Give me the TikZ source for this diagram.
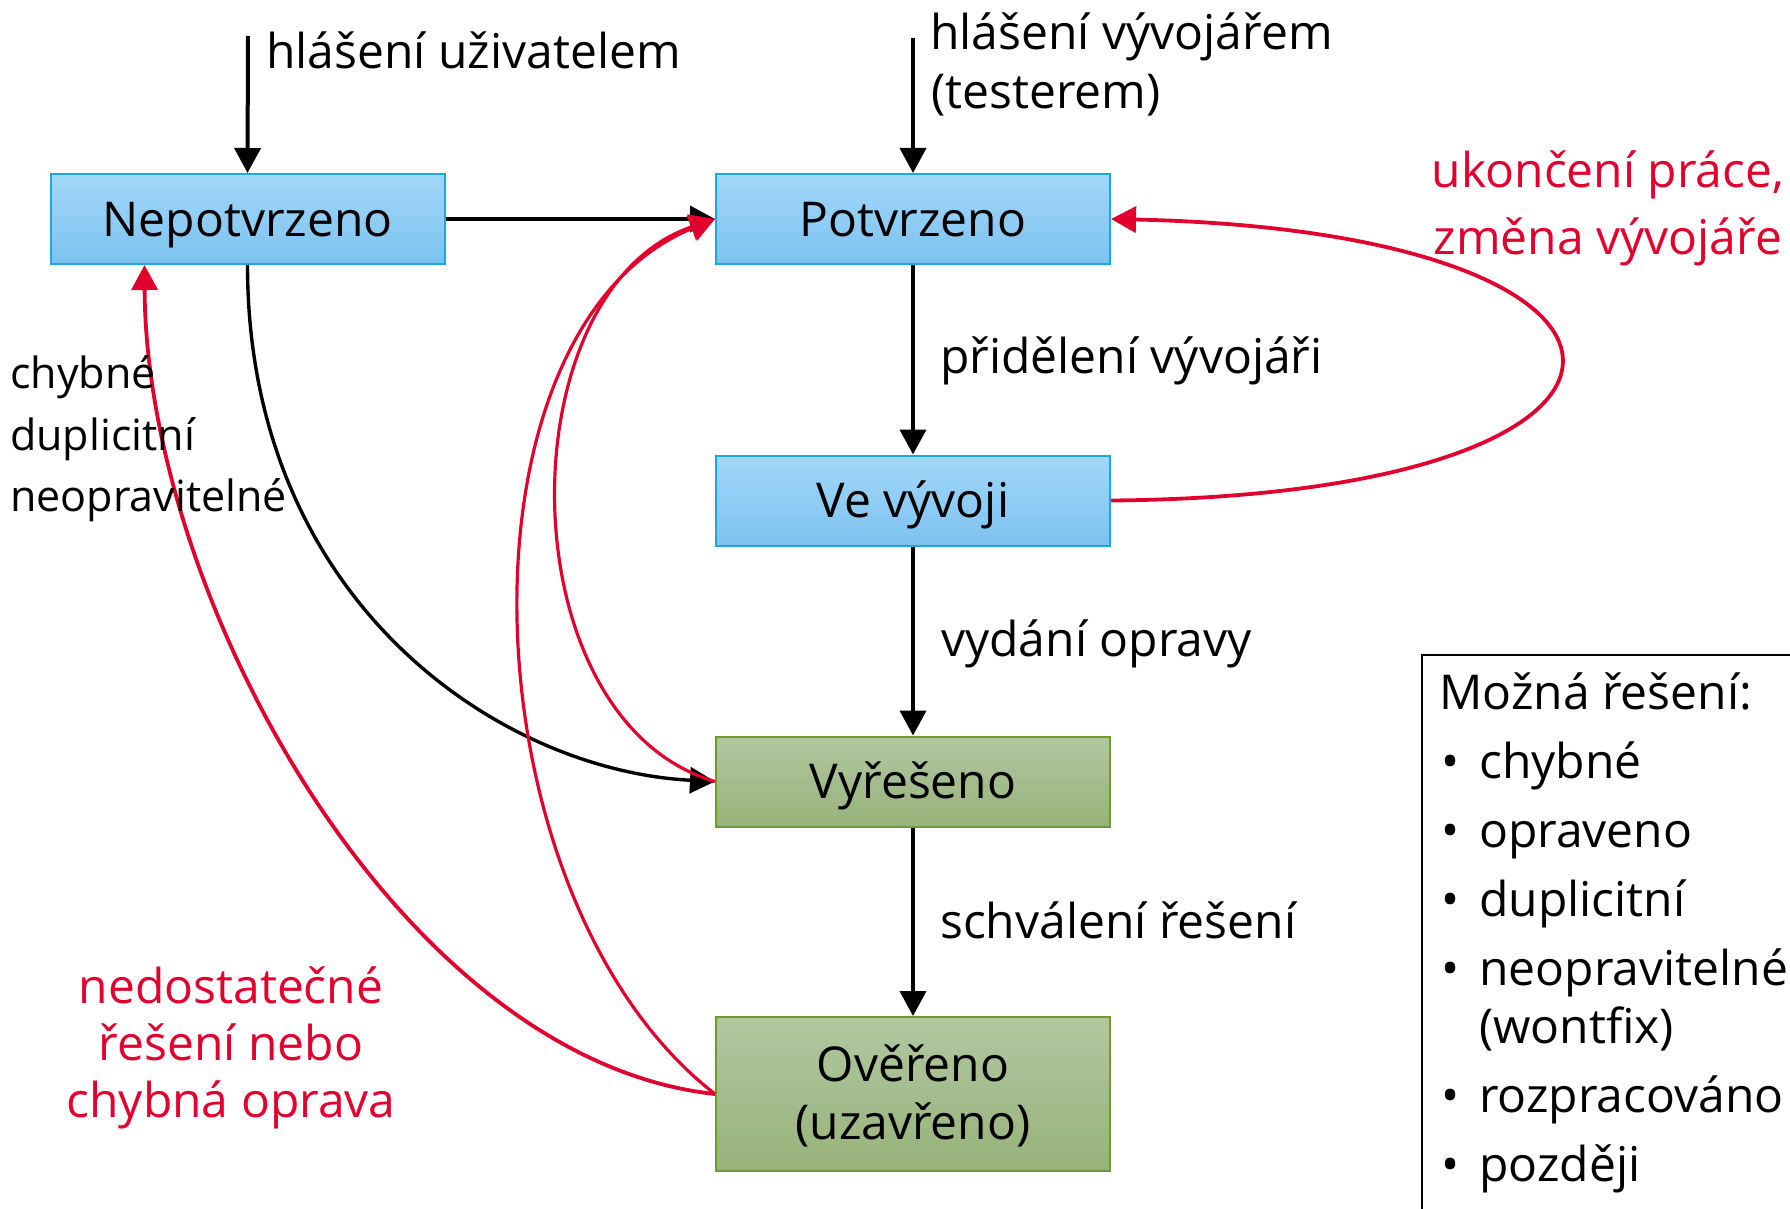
\documentclass[tikz,border=0pt]{standalone}
\usepackage{fontspec}
\setmainfont{Open Sans}
\usetikzlibrary{arrows.meta,shadings}
\definecolor{bdblue}{HTML}{1AA8E0}
\definecolor{topblue}{HTML}{A2D7F9}
\definecolor{botblue}{HTML}{7CC2EF}
\definecolor{bdgreen}{HTML}{6F9B2E}
\definecolor{topgreen}{HTML}{B2C7A0}
\definecolor{botgreen}{HTML}{97B27B}
\definecolor{myred}{HTML}{E2002E}
\newcommand\dgfont{\fontsize{48}{58}\selectfont}
\newcommand\smfont{\fontsize{43}{62}\selectfont}
\tikzset{
  state/.style={draw, line width=2pt, minimum width=394pt, minimum height=90pt,
    inner sep=0pt, align=center, font=\dgfont},
  onel/.style={text height=34pt, text depth=0pt},
  bluestate/.style={state, onel, draw=bdblue, top color=topblue, bottom color=botblue},
  greenstate/.style={state, draw=bdgreen, top color=topgreen, bottom color=botgreen},
  lbl/.style={inner sep=0pt, font=\dgfont, anchor=base west},
  smlbl/.style={inner sep=0pt, font=\smfont, anchor=base west},
  redlbl/.style={inner sep=0pt, font=\dgfont, anchor=base, text=myred},
  tip/.style={-{Triangle[length=25pt,width=26pt]}},
  blk/.style={line width=4pt, tip},
  blkcurve/.style={line width=3.4pt, tip},
  redarr/.style={myred, line width=3.2pt, tip},
}
\begin{document}
\begin{tikzpicture}[x=1pt,y=-1pt]
\useasboundingbox (0,0) rectangle (1790,1209);
\clip (0,0) rectangle (1790,1209);

% states
\node[bluestate] (N1) at (247.5,219) {Nepotvrzeno};
\node[bluestate] (P) at (913,219) {Potvrzeno};
\node[bluestate] (V) at (913,500.5) {Ve vývoji};
\node[greenstate, onel] (R) at (913,781.5) {Vyřešeno};
\node[greenstate, minimum height=154pt] (O) at (913,1094) {\rule{0pt}{40pt}Ověřeno\\(uzavřeno)};

% entry points
\coordinate (in1) at (248,36);
\coordinate (in2) at (913,38);
\draw[blk] (in1) -- (N1.north);
\draw[blk] (in2) -- (P.north);

% black connectors
\draw[blk] (N1.east) -- (P.west);
\draw[blk] (P.south) -- (V.north);
\draw[blk] (V.south) -- (R.north);
\draw[blk] (R.south) -- (O.north);
\draw[blkcurve] (N1.south) .. controls +(0,336) and +(-216,-11) .. (R.west);

% red connectors
\draw[redarr, line width=3.8pt] (V.east) .. controls +(600,-5) and +(597,13) .. (P.east);
\draw[redarr, line width=3.8pt] (O.west) .. controls (400,1060) and (146,600) .. ([xshift=95pt]N1.south west);
\draw[redarr] (R.west) .. controls (505,720) and (505,290) .. (P.west);
\draw[redarr] (O.west) .. controls (465,900) and (445,330) .. (P.west);

% labels
\node[lbl] (l1) at (266,69) {hlášení uživatelem};
\node[lbl] (l2a) at (930,50) {hlášení vývojářem};
\node[lbl] (l2b) at (931,109) {(testerem)};
\node[lbl] (l3) at (940,373) {přidělení vývojáři};
\node[lbl] (l4) at (941,656) {vydání opravy};
\node[lbl] (l5) at (940,938) {schválení řešení};
\node[smlbl] (l6a) at (10,388) {chybné};
\node[smlbl] (l6b) at (10,450) {duplicitní};
\node[smlbl] (l6c) at (10,511) {neopravitelné};
\node[redlbl] (r1a) at (1608,188) {ukončení práce,};
\node[redlbl] (r1b) at (1608,254) {změna vývojáře};
\node[redlbl] (r2a) at (231,1003) {nedostatečné};
\node[redlbl] (r2b) at (231,1060) {řešení nebo};
\node[redlbl] (r2c) at (231,1117) {chybná oprava};

% legend
\node[draw, line width=2pt, anchor=north west, minimum width=450pt, minimum height=620pt, inner sep=0pt] (leg) at (1421,654) {};
\node[lbl] (h) at (1439,709) {Možná řešení:};
\foreach \yy/\tt [count=\i] in {778/chybné, 847/opraveno, 916/duplicitní, 985/neopravitelné, 1112/rozpracováno, 1181/později}{
  \node[inner sep=0pt, font=\dgfont, anchor=base] (b\i) at (1451,\yy) {•};
  \node[lbl] (t\i) at (1479,\yy) {\tt};
}
\node[lbl] (tw) at (1479,1043) {(wontfix)};
\end{tikzpicture}
\end{document}
